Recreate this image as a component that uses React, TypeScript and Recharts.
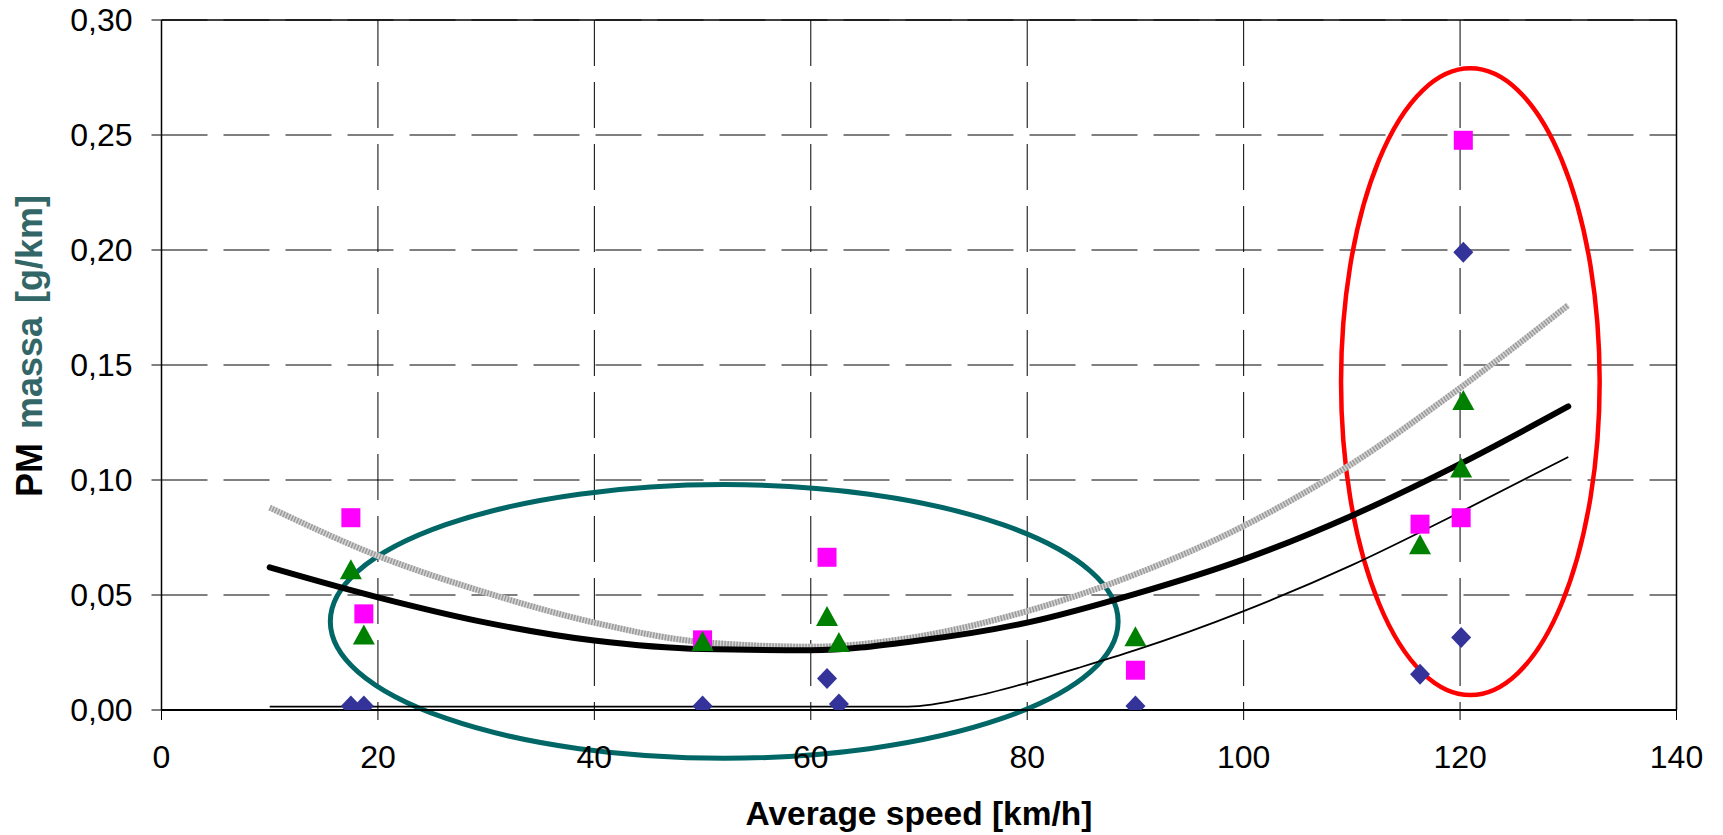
import {
  ComposedChart,
  Line,
  Scatter,
  XAxis,
  YAxis,
  CartesianGrid,
  ReferenceLine,
  ReferenceArea,
} from "recharts"

const FONT = '"Liberation Sans", Arial, sans-serif'

const xTicks = [0, 20, 40, 60, 80, 100, 120, 140]
const yTicks = [0, 0.05, 0.1, 0.15, 0.2, 0.25, 0.3]

// measured points
const diamondPoints = [
  { x: 17.5, y: 0.0017 },
  { x: 18.7, y: 0.0017 },
  { x: 50.0, y: 0.0017 },
  { x: 61.5, y: 0.0137 },
  { x: 62.6, y: 0.0026 },
  { x: 90.0, y: 0.0017 },
  { x: 116.3, y: 0.0155 },
  { x: 120.1, y: 0.0315 },
  { x: 120.3, y: 0.199 },
]

const squarePoints = [
  { x: 17.5, y: 0.0836 },
  { x: 18.7, y: 0.0418 },
  { x: 50.0, y: 0.0305 },
  { x: 61.5, y: 0.0664 },
  { x: 90.0, y: 0.0173 },
  { x: 116.3, y: 0.0808 },
  { x: 120.1, y: 0.0836 },
  { x: 120.3, y: 0.2477 },
]

const trianglePoints = [
  { x: 17.5, y: 0.061 },
  { x: 18.7, y: 0.0326 },
  { x: 50.0, y: 0.0298 },
  { x: 61.5, y: 0.0406 },
  { x: 62.6, y: 0.0293 },
  { x: 90.0, y: 0.0318 },
  { x: 116.3, y: 0.0718 },
  { x: 120.1, y: 0.1052 },
  { x: 120.3, y: 0.1346 },
]

// trend lines
const thickFit = [
  { x: 10, y: 0.062 },
  { x: 20, y: 0.049 },
  { x: 30, y: 0.038 },
  { x: 40, y: 0.0302 },
  { x: 50, y: 0.0265 },
  { x: 60, y: 0.026 },
  { x: 70, y: 0.0302 },
  { x: 80, y: 0.038 },
  { x: 90, y: 0.0505 },
  { x: 100, y: 0.0655 },
  { x: 110, y: 0.0845 },
  { x: 120, y: 0.107 },
  { x: 130, y: 0.132 },
]

const grayFit = [
  { x: 10, y: 0.088 },
  { x: 20, y: 0.067 },
  { x: 30, y: 0.051 },
  { x: 40, y: 0.038 },
  { x: 50, y: 0.0295 },
  { x: 60, y: 0.0275 },
  { x: 70, y: 0.032 },
  { x: 80, y: 0.043 },
  { x: 90, y: 0.059 },
  { x: 100, y: 0.08 },
  { x: 110, y: 0.107 },
  { x: 120, y: 0.14 },
  { x: 130, y: 0.176 },
]

const thinFit = [
  { x: 10, y: 0.0015 },
  { x: 69, y: 0.0015 },
  { x: 75, y: 0.0058 },
  { x: 80, y: 0.0118 },
  { x: 85, y: 0.0187 },
  { x: 90, y: 0.026 },
  { x: 100, y: 0.043 },
  { x: 110, y: 0.063 },
  { x: 120, y: 0.086 },
  { x: 130, y: 0.11 },
]

// annotation ellipses (data units)
const tealEllipse = { x1: 15.6, x2: 88.4, y1: -0.021, y2: 0.098 }
const redEllipse = { x1: 109, x2: 132.9, y1: 0.0065, y2: 0.279 }

function Diamond(props: any) {
  const { cx, cy } = props
  return (
    <polygon
      points={`${cx},${cy - 10.5} ${cx + 10},${cy} ${cx},${cy + 10.5} ${cx - 10},${cy}`}
      fill="#333399"
    />
  )
}

function Square(props: any) {
  const { cx, cy } = props
  return <rect x={cx - 9.5} y={cy - 9.5} width={19} height={19} fill="#FF00FF" />
}

function Triangle(props: any) {
  const { cx, cy } = props
  return (
    <polygon
      points={`${cx},${cy - 10.5} ${cx + 11},${cy + 9.5} ${cx - 11},${cy + 9.5}`}
      fill="#008000"
    />
  )
}

function ellipseShape(color: string, width: number) {
  return (p: any) => {
    const w = Math.abs(p.width)
    const h = Math.abs(p.height)
    const x = Math.min(p.x, p.x + p.width)
    const y = Math.min(p.y, p.y + p.height)
    return (
      <ellipse
        cx={x + w / 2}
        cy={y + h / 2}
        rx={w / 2}
        ry={h / 2}
        fill="none"
        stroke={color}
        strokeWidth={width}
      />
    )
  }
}

const fmtY = (v: number) => v.toFixed(2).replace(".", ",")

export default function App() {
  return (
    <div style={{ position: "absolute", left: 0, top: 0, width: 1723, height: 835, background: "#fff" }}>
      <ComposedChart width={1723} height={835} margin={{ top: 20, right: 46.5, bottom: 0, left: 0 }}>
        <CartesianGrid stroke="#000" strokeWidth={1} strokeDasharray="46 16" />
        <XAxis
          type="number"
          dataKey="x"
          domain={[0, 140]}
          ticks={xTicks}
          interval={0}
          allowDataOverflow
          height={125}
          tickSize={10}
          tickMargin={25}
          axisLine={{ stroke: "#000", strokeWidth: 2 }}
          tickLine={{ stroke: "#000" }}
          tick={{ fill: "#000", fontSize: 32, fontFamily: FONT }}
          label={(p: any) => {
            const vb = p.viewBox
            return (
              <text
                x={vb.x + vb.width / 2}
                y={vb.y + 115}
                textAnchor="middle"
                fontFamily={FONT}
                fontWeight="bold"
                fontSize={33.5}
                fill="#000"
              >
                Average speed [km/h]
              </text>
            )
          }}
        />
        <YAxis
          type="number"
          dataKey="y"
          domain={[0, 0.3]}
          ticks={yTicks}
          interval={0}
          allowDataOverflow
          width={161.5}
          tickSize={10}
          tickMargin={19}
          tickFormatter={fmtY}
          axisLine={{ stroke: "#000", strokeWidth: 1.5 }}
          tickLine={{ stroke: "#000" }}
          tick={{ fill: "#000", fontSize: 32, fontFamily: FONT }}
          label={(p: any) => {
            const vb = p.viewBox
            const cx = vb.x + 29
            const cy = vb.y + vb.height / 2 - 19
            return (
              <text
                x={cx}
                y={cy}
                transform={`rotate(-90, ${cx}, ${cy})`}
                textAnchor="middle"
                dominantBaseline="central"
                fontFamily={FONT}
                fontWeight="bold"
                fontSize={36}
              >
                <tspan fill="#000">PM</tspan>
                <tspan fill="#336666" dx={4}> massa</tspan>
                <tspan fill="#336666" dx={4}> [g/km]</tspan>
              </text>
            )
          }}
        />

        <ReferenceLine y={0.3} stroke="#000" strokeWidth={1.5} />
        <ReferenceLine x={140} stroke="#000" strokeWidth={1.5} />

        <Line data={grayFit} dataKey="y" type="monotone" stroke="#d4d4d4" strokeWidth={6} dot={false} activeDot={false} isAnimationActive={false} />
        <Line data={grayFit} dataKey="y" type="monotone" stroke="#9a9a9a" strokeWidth={6} strokeDasharray="1.5 1.5" dot={false} activeDot={false} isAnimationActive={false} />
        <Line data={thinFit} dataKey="y" type="monotone" stroke="#000" strokeWidth={1.8} dot={false} activeDot={false} isAnimationActive={false} />
        <Line data={thickFit} dataKey="y" type="monotone" stroke="#000" strokeWidth={6} strokeLinecap="round" dot={false} activeDot={false} isAnimationActive={false} />

        <Scatter data={diamondPoints} dataKey="y" shape={<Diamond />} isAnimationActive={false} />
        <Scatter data={squarePoints} dataKey="y" shape={<Square />} isAnimationActive={false} />
        <Scatter data={trianglePoints} dataKey="y" shape={<Triangle />} isAnimationActive={false} />

        <ReferenceArea
          x1={tealEllipse.x1}
          x2={tealEllipse.x2}
          y1={tealEllipse.y1}
          y2={tealEllipse.y2}
          ifOverflow="visible"
          shape={ellipseShape("#006666", 5)}
        />
        <ReferenceArea
          x1={redEllipse.x1}
          x2={redEllipse.x2}
          y1={redEllipse.y1}
          y2={redEllipse.y2}
          ifOverflow="visible"
          shape={ellipseShape("#FF0000", 4.5)}
        />
      </ComposedChart>
    </div>
  )
}
